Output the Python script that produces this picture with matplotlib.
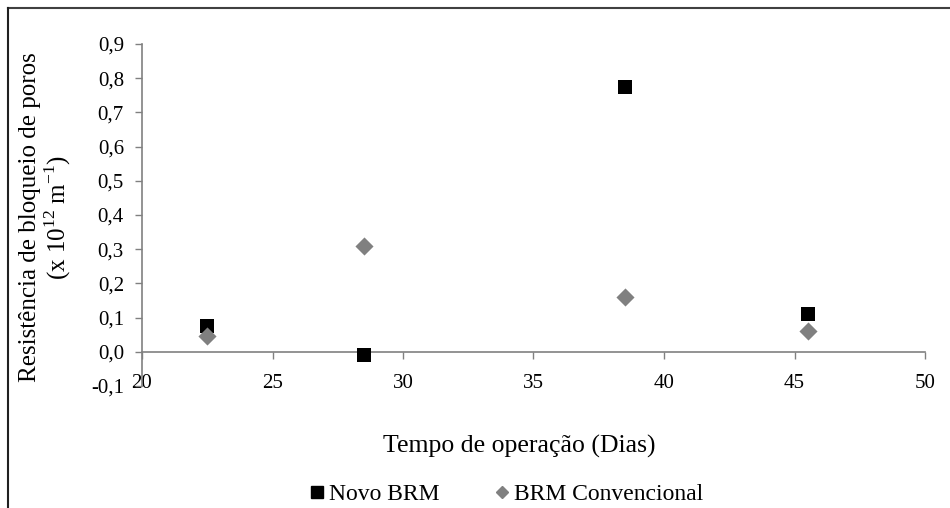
import matplotlib
matplotlib.use("Agg")
import matplotlib.pyplot as plt
from matplotlib.lines import Line2D

plt.rcParams['font.family'] = ['Liberation Serif', 'DejaVu Serif']
plt.rcParams['mathtext.fontset'] = 'custom'
plt.rcParams['mathtext.rm'] = 'Liberation Serif'

# Operation time (days) and pore-blocking resistance (x 10^12 m^-1)
dias = [22.5, 28.5, 38.5, 45.5]
novo_brm = [0.075, -0.01, 0.775, 0.11]
brm_convencional = [0.045, 0.31, 0.16, 0.06]

x_ticks = [20, 25, 30, 35, 40, 45, 50]
y_ticks = [-0.1, 0.0, 0.1, 0.2, 0.3, 0.4, 0.5, 0.6, 0.7, 0.8, 0.9]

W, H = 950, 508
fig = plt.figure(figsize=(W / 100, H / 100), dpi=100)
ax = fig.add_axes([142 / W, 1 - 386 / H, (925 - 142) / W, (386 - 44) / H])

ax.scatter(dias, novo_brm, marker='s', s=110, color='black', zorder=3, linewidths=0)
ax.scatter(dias, brm_convencional, marker='D', s=85, color='#808080', zorder=3, linewidths=0)

ax.set_xlim(20, 50)
ax.set_ylim(-0.1, 0.9)
ax.set_xticks(x_ticks)
ax.set_yticks(y_ticks)
ax.set_xticklabels([str(v) for v in x_ticks])
ax.set_yticklabels([f"{v:.1f}".replace('.', ',') for v in y_ticks])

axis_col = '#808080'
for side in ('top', 'right'):
    ax.spines[side].set_visible(False)
ax.spines['bottom'].set_position(('data', 0))
ax.spines['bottom'].set_color(axis_col)
ax.spines['left'].set_color(axis_col)
ax.spines['bottom'].set_linewidth(1.2)
ax.spines['left'].set_linewidth(1.2)
ax.tick_params(axis='both', colors=axis_col, labelcolor='black', labelsize=15,
               direction='out', length=5, width=1)
ax.tick_params(axis='x', pad=11)
ax.tick_params(axis='y', pad=8)

fig.text(30 / W, 1 - 217 / H, 'Resistência de bloqueio de poros', rotation=90,
         ha='center', va='center', fontsize=18)
fig.text(58 / W, 1 - 217 / H, r'(x 10$^{\mathregular{12}}$ m$^{\mathregular{-1}}$)', rotation=90,
         ha='center', va='center', fontsize=18)
fig.text(519 / W, 1 - 446 / H, 'Tempo de operação (Dias)', ha='center', va='center',
         fontsize=18.5)

handles = [
    Line2D([], [], marker='s', color='black', linestyle='none', markersize=8),
    Line2D([], [], marker='D', color='#808080', linestyle='none', markersize=6.5),
]
fig.legend(handles, ['Novo BRM', 'BRM Convencional'], loc='center',
           bbox_to_anchor=(504 / W, 1 - 494 / H), ncol=2, frameon=False,
           fontsize=17, handletextpad=0.0, columnspacing=2.15, handlelength=1.0)

# chart area frame: top and left edges
fig.add_artist(Line2D([7.5 / W, 1.0], [1 - 7.5 / H, 1 - 7.5 / H], color='#404040', lw=1.5))
fig.add_artist(Line2D([7.5 / W, 7.5 / W], [0.0, 1 - 7.5 / H], color='#202020', lw=1.5))

fig.savefig('out.png', dpi=100)
